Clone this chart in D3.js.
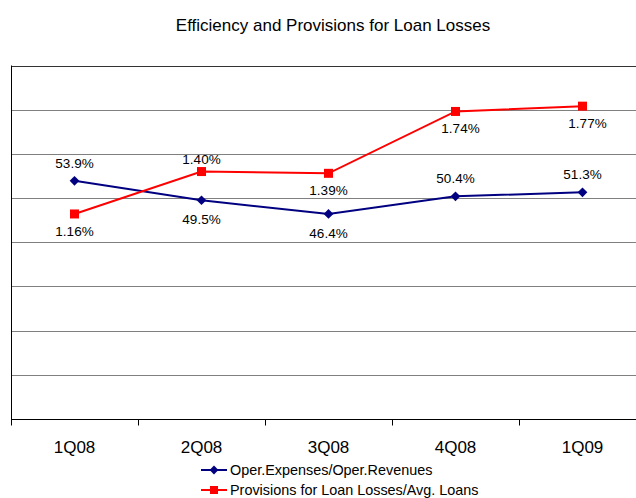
<!DOCTYPE html>
<html>
<head>
<meta charset="utf-8">
<script src="https://cdn.jsdelivr.net/npm/d3@7"></script>
<style>
  body { margin: 0; background: #fff; }
  text { font-family: "Liberation Sans", Arial, sans-serif; fill: #000; }
</style>
</head>
<body>
<div id="chart"></div>
<script>
// data
const quarters = ['1Q08', '2Q08', '3Q08', '4Q08', '1Q09']
const efficiency = [53.9, 49.5, 46.4, 50.4, 51.3]
const provisions = [1.16, 1.40, 1.39, 1.74, 1.77]
const effLabelPos = ['above', 'below', 'below', 'above', 'above']
const provLabelPos = ['below', 'above', 'below', 'below', 'below']
const legendNames = ['Oper.Expenses/Oper.Revenues', 'Provisions for Loan Losses/Avg. Loans']

const width = 636
const height = 498
const margin = {top: 65.5, right: -10, bottom: 79, left: 11}

const svg = d3.select('#chart').append('svg')
  .attr('width', width)
  .attr('height', height)

const x = d3.scaleBand().domain(quarters)
  .range([margin.left, width - margin.right])
const yLeft = d3.scaleLinear().domain([0, 80])
  .range([height - margin.bottom, margin.top])
const yRight = d3.scaleLinear().domain([0, 2])
  .range([height - margin.bottom, margin.top])

// title
svg.append('text')
  .attr('x', 333)
  .attr('y', 31)
  .attr('text-anchor', 'middle')
  .style('font-size', '17px')
  .text('Efficiency and Provisions for Loan Losses')

// gridlines
svg.append('g')
  .selectAll('line')
  .data(yLeft.ticks(8).filter(d => d > 0))
  .enter().append('line')
  .attr('x1', margin.left)
  .attr('x2', width)
  .attr('y1', d => Math.round(yLeft(d)) + 0.5)
  .attr('y2', d => Math.round(yLeft(d)) + 0.5)
  .attr('stroke', d => d === 80 ? '#333' : '#808080')
  .attr('stroke-width', 1)

// y axis line (no labels)
svg.append('line')
  .attr('x1', margin.left + 0.5).attr('x2', margin.left + 0.5)
  .attr('y1', margin.top).attr('y2', height - margin.bottom)
  .attr('stroke', '#000')

// x axis
const xAxis = svg.append('g')
  .attr('transform', `translate(0, ${Math.round(height - margin.bottom) + 0.5})`)
xAxis.append('line')
  .attr('x1', margin.left).attr('x2', width)
  .attr('stroke', '#000')
xAxis.selectAll('.tick')
  .data(quarters)
  .enter().append('line')
  .attr('class', 'tick')
  .attr('x1', d => Math.round(x(d)) + 0.5)
  .attr('x2', d => Math.round(x(d)) + 0.5)
  .attr('y1', 0).attr('y2', 6)
  .attr('stroke', '#000')
xAxis.selectAll('.lbl')
  .data(quarters)
  .enter().append('text')
  .attr('class', 'lbl')
  .attr('x', d => x(d) + x.bandwidth() / 2)
  .attr('y', 33)
  .attr('text-anchor', 'middle')
  .style('font-size', '17px')
  .text(d => d)

const cx = (d, i) => x(quarters[i]) + x.bandwidth() / 2

// efficiency series
const effLine = d3.line().x(cx).y(d => yLeft(d))
svg.append('path')
  .datum(efficiency)
  .attr('d', effLine)
  .attr('fill', 'none')
  .attr('stroke', '#000080')
  .attr('stroke-width', 2)
svg.selectAll('.eff-pt')
  .data(efficiency)
  .enter().append('path')
  .attr('class', 'eff-pt')
  .attr('d', d3.symbol(d3.symbolDiamond2, 60)())
  .attr('transform', (d, i) => `translate(${cx(d, i)}, ${yLeft(d)})`)
  .attr('fill', '#000080')
svg.selectAll('.eff-lbl')
  .data(efficiency)
  .enter().append('text')
  .attr('class', 'eff-lbl')
  .attr('x', cx)
  .attr('y', (d, i) => yLeft(d) + (effLabelPos[i] === 'above' ? -13 : 24))
  .attr('text-anchor', 'middle')
  .style('font-size', '13.5px')
  .text(d => d.toFixed(1) + '%')

// provisions series
const provLine = d3.line().x(cx).y(d => yRight(d))
svg.append('path')
  .datum(provisions)
  .attr('d', provLine)
  .attr('fill', 'none')
  .attr('stroke', '#ff0000')
  .attr('stroke-width', 2)
svg.selectAll('.prov-pt')
  .data(provisions)
  .enter().append('rect')
  .attr('class', 'prov-pt')
  .attr('x', (d, i) => cx(d, i) - 4.5)
  .attr('y', d => yRight(d) - 4.5)
  .attr('width', 9)
  .attr('height', 9)
  .attr('fill', '#ff0000')
svg.selectAll('.prov-lbl')
  .data(provisions)
  .enter().append('text')
  .attr('class', 'prov-lbl')
  .attr('x', (d, i) => cx(d, i) + (i >= 3 ? 5 : 0))
  .attr('y', (d, i) => yRight(d) + (provLabelPos[i] === 'above' ? -8 : 22))
  .attr('text-anchor', 'middle')
  .style('font-size', '13.5px')
  .text(d => d.toFixed(2) + '%')

// legend
const legend = svg.append('g').attr('transform', 'translate(201, 470)')
const legendColors = ['#000080', '#ff0000']
legendNames.forEach((name, i) => {
  const g = legend.append('g').attr('transform', `translate(0, ${i * 20})`)
  g.append('line')
    .attr('x1', 0).attr('x2', 26)
    .attr('stroke', legendColors[i])
    .attr('stroke-width', 2)
  if (i === 0) {
    g.append('path')
      .attr('d', d3.symbol(d3.symbolDiamond2, 50)())
      .attr('transform', 'translate(13, 0)')
      .attr('fill', legendColors[i])
  } else {
    g.append('rect')
      .attr('x', 9).attr('y', -4).attr('width', 8).attr('height', 8)
      .attr('fill', legendColors[i])
  }
  g.append('text')
    .attr('x', 29)
    .attr('y', 5)
    .style('font-size', '14.4px')
    .text(name)
})
</script>
</body>
</html>
